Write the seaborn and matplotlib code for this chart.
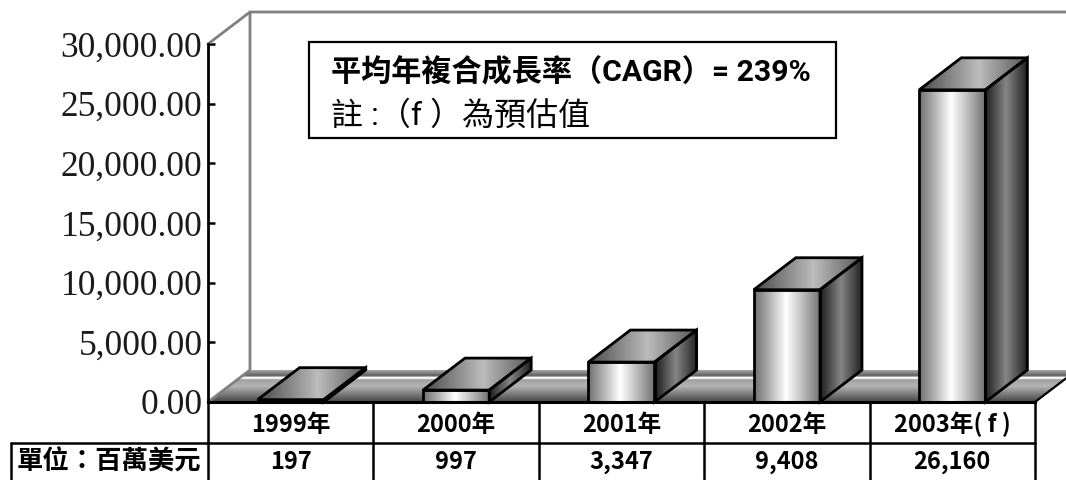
import numpy as np
import pandas as pd
import matplotlib
matplotlib.use("Agg")
import matplotlib.pyplot as plt
from matplotlib.patches import Polygon, Rectangle
from matplotlib.colors import LinearSegmentedColormap
import seaborn as sns

years = ["1999年", "2000年", "2001年", "2002年", "2003年( f )"]
values = [197, 997, 3347, 9408, 26160]
value_labels = ["197", "997", "3,347", "9,408", "26,160"]
y_ticks = [0, 5000, 10000, 15000, 20000, 25000, 30000]
unit_label = "單位：百萬美元"
note_title = "平均年複合成長率（CAGR）= 239%"
note_sub = "註 :（f ）為預估值"

W, H = 1066, 480
AX_L, AX_R, AX_T, AX_B = 208, 1035, 44, 402
DX_PX, DY_PX = 42, 32
ROW1_B, ROW2_B = 443, 479
CJK = ["Noto Sans CJK TC", "DejaVu Sans"]
NOTE_FONT = ["Roboto", "Noto Sans CJK TC", "DejaVu Sans"]

sns.set_theme(style="white")
plt.rcParams["font.family"] = CJK

fig = plt.figure(figsize=(W / 100, H / 100), dpi=100)
ax = fig.add_axes([AX_L / W, 1 - AX_B / H, (AX_R - AX_L) / W, (AX_B - AX_T) / H])
df = pd.DataFrame({"year": years, "value": values})
sns.barplot(data=df, x="year", y="value", order=years, width=0.4, color="white",
            edgecolor="black", linewidth=2, ax=ax, zorder=5, clip_on=False)
ax.set_xlim(-0.5, 4.5)
ax.set_ylim(0, 30000)
ax.set_xlabel("")
ax.set_ylabel("")
ax.patch.set_alpha(0)

# depth expressed in data units of the axes scales
cat_px = (AX_R - AX_L) / 5
unit_px = (AX_B - AX_T) / 30000
DX = DX_PX / cat_px
DY = DY_PX / unit_px
XMIN, XMAX = ax.get_xlim()
YTOP = 30000


def ramp(stops):
    return LinearSegmentedColormap.from_list("r", stops, N=256)


def shaded(poly, extent, stops, horizontal=True, z=3):
    g = np.linspace(0, 1, 256)
    g = g[None, :] if horizontal else g[:, None]
    im = ax.imshow(g, extent=extent, cmap=ramp(stops), vmin=0, vmax=1, aspect="auto",
                   origin="upper", zorder=z, interpolation="bilinear")
    p = Polygon(poly, closed=True, transform=ax.transData)
    im.set_clip_path(p)
    im.set_clip_box(fig.bbox)
    return im


front_ramp = [(0, "#6e6e6e"), (.25, "#b8b8b8"), (.48, "#ffffff"), (.7, "#c4c4c4"), (1, "#707070")]
top_ramp = [(0, "#4a4a4a"), (.55, "#bcbcbc"), (1, "#555555")]
side_ramp = [(0, "#1c1c1c"), (.5, "#858585"), (1, "#222222")]
floor_stops = [(0, "#a8a8a8"), (.17, "#606060"), (.2, "#8a8a8a"), (.22, "#ffffff"), (.26, "#ffffff"),
               (.3, "#a0a0a0"), (.5, "#b4b4b4"), (1, "#444444")]

# walls and floor
RIGHT_BACK = XMAX + DX + 0.3
shaded([(XMIN, 0), (XMIN + DX, DY), (XMAX + DX, DY), (XMAX, 0)],
       (XMIN, XMAX + DX, 0, DY), floor_stops, horizontal=False, z=1)
grey = "#808080"
ax.plot([XMIN, XMIN + DX, XMIN + DX], [0, DY, YTOP + DY], color=grey, lw=2, clip_on=False, zorder=2)
ax.plot([XMIN, XMIN + DX, RIGHT_BACK], [YTOP, YTOP + DY, YTOP + DY], color=grey, lw=2, clip_on=False, zorder=2)
ax.plot([XMAX, XMAX + DX], [0, DY], color="black", lw=1.6, clip_on=False, zorder=2)

# bars: the shading follows each bar that seaborn drew
for i, bar in enumerate(ax.patches):
    x0, x1 = bar.get_x(), bar.get_x() + bar.get_width()
    v = bar.get_height()
    bar.set_facecolor("none")
    shaded([(x0, 0), (x1, 0), (x1, v), (x0, v)], (x0, x1, 0, v), front_ramp, z=3)
    side = [(x1, 0), (x1 + DX, DY), (x1 + DX, v + DY), (x1, v)]
    shaded(side, (x1, x1 + DX, 0, v + DY), side_ramp, z=3)
    top = [(x0, v), (x1, v), (x1 + DX, v + DY), (x0 + DX, v + DY)]
    shaded(top, (x0, x1 + DX, v, v + DY), top_ramp, z=3)
    ax.add_patch(Polygon(side, closed=True, fill=False, ec="black", lw=2, zorder=4, clip_on=False))
    ax.add_patch(Polygon(top, closed=True, fill=False, ec="black", lw=2, zorder=4, clip_on=False))

ax.set_xlim(XMIN, XMAX)
ax.set_ylim(0, 30000)

# axes styling
for s in ("top", "right"):
    ax.spines[s].set_visible(False)
ax.spines["left"].set_linewidth(2)
ax.spines["left"].set_color("black")
ax.spines["bottom"].set_linewidth(2.2)
ax.spines["bottom"].set_color("black")
ax.spines["left"].set_zorder(6)
ax.spines["bottom"].set_zorder(6)
ax.set_yticks(y_ticks)
ax.set_yticklabels([f"{t:,.2f}" for t in y_ticks], family="Liberation Serif", fontsize=25.5, color="#1a1a1a")
ax.tick_params(axis="y", direction="in", length=5, width=1.8, color="black", pad=4, left=True)
ax.set_xticks(range(5))
ax.set_xticklabels(years, fontsize=17, fontweight="bold", color="black", va="baseline")
ax.tick_params(axis="x", length=0, pad=21.6)

# table below the axis, on a pixel overlay
ov = fig.add_axes([0, 0, 1, 1])
ov.set_xlim(0, W)
ov.set_ylim(H, 0)
ov.axis("off")
ov.patch.set_alpha(0)
seps = np.linspace(AX_L, AX_R, 6)
for xs in seps:
    ov.plot([xs, xs], [AX_B, ROW2_B], color="black", lw=1.8)
ov.plot([11, AX_R], [ROW1_B, ROW1_B], color="black", lw=1.8)
ov.plot([11, 11], [ROW1_B, ROW2_B], color="black", lw=1.8)
ov.text(109, 462, unit_label, ha="center", va="center", fontsize=19, fontweight="bold", color="black")
for i, lab in enumerate(value_labels):
    ov.text((seps[i] + seps[i + 1]) / 2, 462, lab, ha="center", va="center",
            fontsize=17, fontweight="bold", color="black")

# note box
ov.add_patch(Rectangle((309, 42), 527, 96, fc="white", ec="black", lw=1.6, zorder=10))
ov.text(331, 73, note_title, family=NOTE_FONT, fontsize=21.7, fontweight="bold", va="center", ha="left",
        color="black", zorder=11)
ov.text(331, 116, note_sub, family=NOTE_FONT, fontsize=23, va="center", ha="left", color="black", zorder=11)

fig.savefig("out.png", dpi=100, facecolor="white")
